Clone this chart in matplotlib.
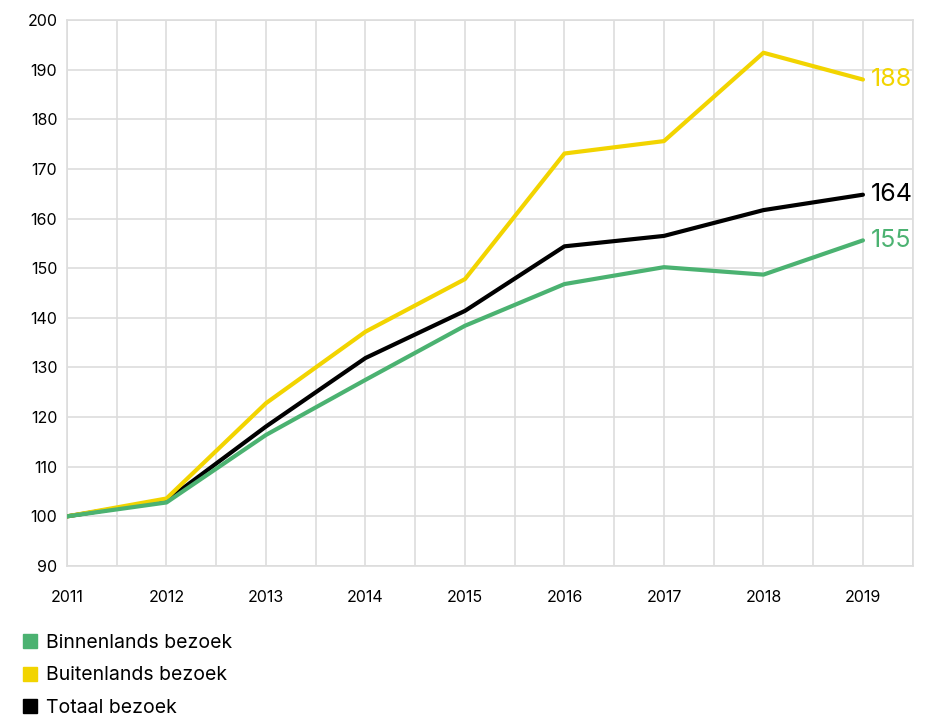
import matplotlib
matplotlib.use('Agg')
import matplotlib.pyplot as plt
from matplotlib.lines import Line2D
from matplotlib.ticker import MultipleLocator

plt.rcParams['font.family'] = ['Inter', 'DejaVu Sans']

years = [2011, 2012, 2013, 2014, 2015, 2016, 2017, 2018, 2019]
binnenlands = [100, 102.8, 116.4, 127.5, 138.4, 146.8, 150.2, 148.7, 155.6]
buitenlands = [100, 103.6, 122.8, 137.2, 147.8, 173.1, 175.6, 193.4, 188.0]
totaal = [100, 103.2, 118.1, 131.9, 141.4, 154.4, 156.5, 161.7, 164.8]

labels = ['Binnenlands bezoek', 'Buitenlands bezoek', 'Totaal bezoek']
colors = ['#4bb271', '#f2d400', '#000000']
end_labels = ['155', '188', '164']

fig = plt.figure(figsize=(9.28, 7.19), dpi=100)
ax = fig.add_axes([0.0722, 0.2128, 0.9113, 0.7594])

# volgorde: zwart onder, groen boven
ax.plot(years, totaal, color=colors[2], lw=3, solid_capstyle='round', zorder=3)
ax.plot(years, buitenlands, color=colors[1], lw=3, solid_capstyle='round', zorder=4)
ax.plot(years, binnenlands, color=colors[0], lw=3, solid_capstyle='round', zorder=5)

for serie, col, lab in zip([binnenlands, buitenlands, totaal], colors, end_labels):
    ax.annotate(lab, (years[-1], serie[-1]), xytext=(6, 0), textcoords='offset points',
                va='center', ha='left', fontsize=18, color=col)

ax.set_xlim(2011, 2019.5)
ax.set_ylim(90, 200)
ax.xaxis.set_major_locator(MultipleLocator(1))
ax.xaxis.set_minor_locator(MultipleLocator(0.5))
ax.yaxis.set_major_locator(MultipleLocator(10))
ax.grid(True, which='both', color='#dddddd', lw=1.2, zorder=0)
ax.set_axisbelow(True)
for s in ax.spines.values():
    s.set_color('#dddddd')
    s.set_linewidth(1.2)
ax.tick_params(which='both', length=0)
ax.tick_params(axis='x', pad=17, labelsize=11.5)
ax.tick_params(axis='y', pad=7, labelsize=11.5)

handles = [Line2D([], [], marker='s', ls='none', color=c, markersize=9.5) for c in colors]
fig.legend(handles, labels, loc='upper left', bbox_to_anchor=(0.016, 0.129),
           frameon=False, fontsize=14, handlelength=0.8, handletextpad=0.4,
           labelspacing=0.74, borderaxespad=0)

fig.savefig('out.png', dpi=100)
